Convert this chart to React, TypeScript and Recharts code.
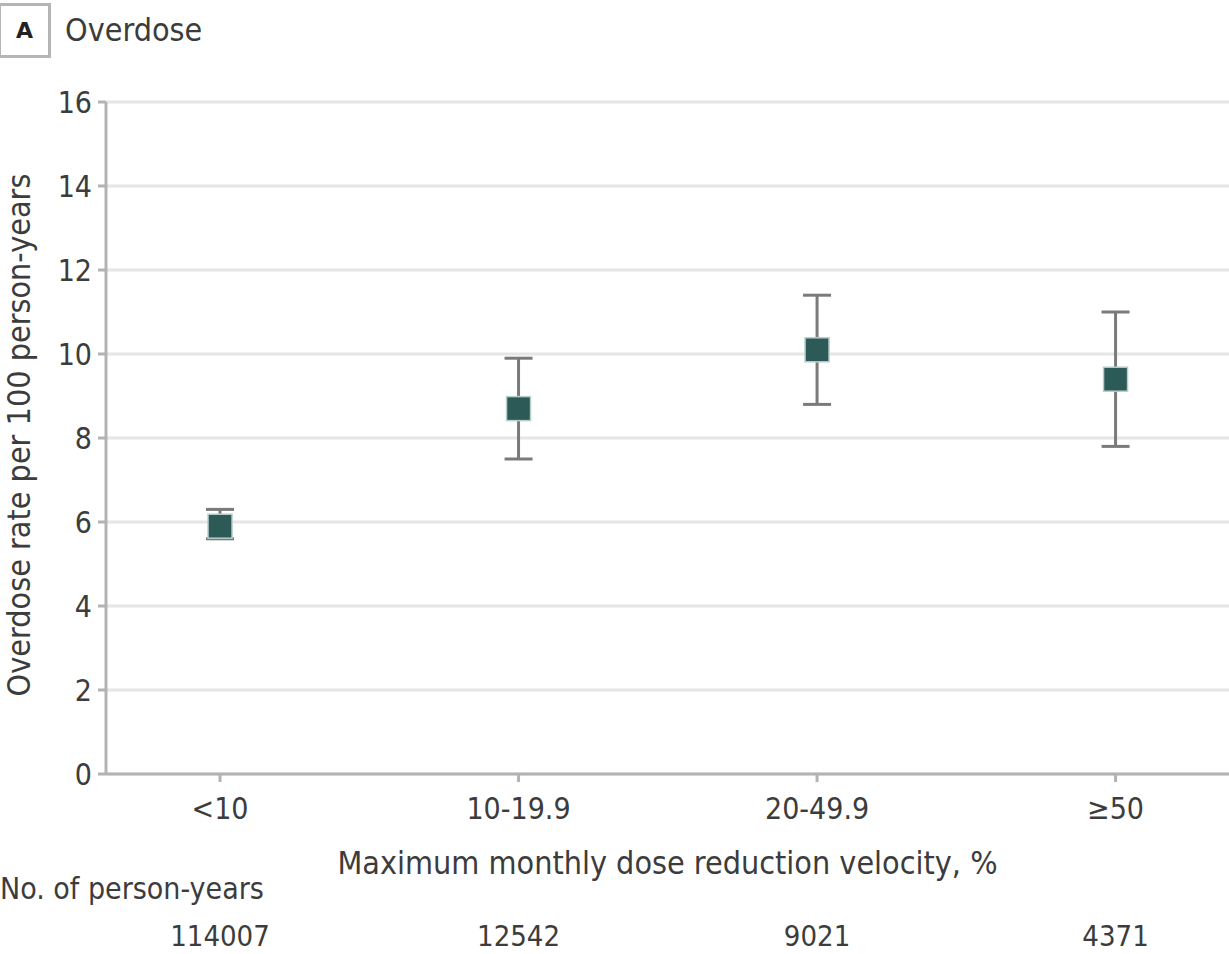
import React from 'react';
import {
  ComposedChart,
  Scatter,
  ErrorBar,
  XAxis,
  YAxis,
  CartesianGrid,
} from 'recharts';

const CATEGORIES = ['<10', '10-19.9', '20-49.9', '≥50'];
const RATE = [5.9, 8.7, 10.1, 9.4];
const CI_LOW = [5.6, 7.5, 8.8, 7.8];
const CI_HIGH = [6.3, 9.9, 11.4, 11.0];
const PERSON_YEARS = ['114007', '12542', '9021', '4371'];
const Y_TICKS = [0, 2, 4, 6, 8, 10, 12, 14, 16];

const data = CATEGORIES.map((c, i) => ({
  x: i,
  rate: RATE[i],
  err: [RATE[i] - CI_LOW[i], CI_HIGH[i] - RATE[i]],
}));

const FONT = '"Liberation Sans Narrow", "DejaVu Sans Condensed", "Open Sans", sans-serif';
const TEXT = '#3c3c3c';

function SquareMark(props: any) {
  const { cx, cy } = props;
  return (
    <rect
      x={cx - 12}
      y={cy - 12}
      width={24}
      height={24}
      fill="#2b5a57"
      stroke="#b9cdcb"
      strokeWidth={1.5}
    />
  );
}

function YLabel(props: any) {
  const { viewBox } = props;
  const cy = viewBox.y + viewBox.height / 2 - 3;
  return (
    <text
      x={19}
      y={cy}
      transform={`rotate(-90, 19, ${cy})`}
      textAnchor="middle"
      dominantBaseline="central"
      fill={TEXT}
      fontSize={32}
      fontFamily={FONT}
    >
      Overdose rate per 100 person-years
    </text>
  );
}

export default function App() {
  return (
    <div
      style={{
        position: 'fixed',
        left: 0,
        top: 0,
        width: 1229,
        height: 954,
        overflow: 'hidden',
        background: '#fff',
        fontFamily: FONT,
      }}
    >
      <div
        style={{
          position: 'absolute',
          left: -2,
          top: 3,
          width: 47,
          height: 49,
          border: '3px solid #b5b5b5',
          display: 'flex',
          alignItems: 'center',
          justifyContent: 'center',
          fontWeight: 'bold',
          fontSize: 22,
          color: '#222',
          fontFamily: '"DejaVu Sans", sans-serif',
        }}
      >
        A
      </div>
      <div
        style={{
          position: 'absolute',
          left: 65,
          top: 11,
          fontSize: 32,
          color: TEXT,
        }}
      >
        Overdose
      </div>
      <div
        style={{
          position: 'absolute',
          left: 0,
          top: 871,
          fontSize: 30,
          color: TEXT,
          whiteSpace: 'nowrap',
        }}
      >
        No. of person-years
      </div>
      <ComposedChart
        width={1229}
        height={954}
        data={data}
        margin={{ top: 102, right: 0, bottom: 0, left: 0 }}
        style={{ position: 'absolute', left: 0, top: 0 }}
      >
        <CartesianGrid
          vertical={false}
          stroke="#e6e6e6"
          strokeWidth={3}
          horizontalValues={Y_TICKS}
        />
        <XAxis
          xAxisId="main"
          type="number"
          dataKey="x"
          domain={[-0.382, 3.38]}
          ticks={[0, 1, 2, 3]}
          tickFormatter={(v: number) => CATEGORIES[v] ?? ''}
          allowDataOverflow
          height={110}
          stroke="#b3b3b3"
          strokeWidth={3}
          tickSize={8}
          tickMargin={16}
          tick={{ fill: TEXT, fontSize: 30, fontFamily: FONT }}
          label={{
            value: 'Maximum monthly dose reduction velocity, %',
            position: 'insideBottom',
            offset: 10,
            fill: TEXT,
            fontSize: 32,
            fontFamily: FONT,
          }}
        />
        <XAxis
          xAxisId="py"
          type="number"
          dataKey="x"
          domain={[-0.382, 3.38]}
          ticks={[0, 1, 2, 3]}
          tickFormatter={(v: number) => PERSON_YEARS[v] ?? ''}
          allowDataOverflow
          height={70}
          axisLine={false}
          tickLine={false}
          tickMargin={35}
          tick={{ fill: TEXT, fontSize: 29, fontFamily: FONT }}
        />
        <YAxis
          type="number"
          domain={[0, 16]}
          ticks={Y_TICKS}
          width={106}
          stroke="#b3b3b3"
          strokeWidth={3}
          tickSize={8}
          tickMargin={6}
          tick={{ fill: TEXT, fontSize: 30, fontFamily: FONT }}
          label={<YLabel />}
        />
        <Scatter
          xAxisId="main"
          dataKey="rate"
          shape={<SquareMark />}
          isAnimationActive={false}
        >
          <ErrorBar
            dataKey="err"
            direction="y"
            width={14}
            stroke="#7a7a7a"
            strokeWidth={3}
            isAnimationActive={false}
          />
        </Scatter>
      </ComposedChart>
    </div>
  );
}
